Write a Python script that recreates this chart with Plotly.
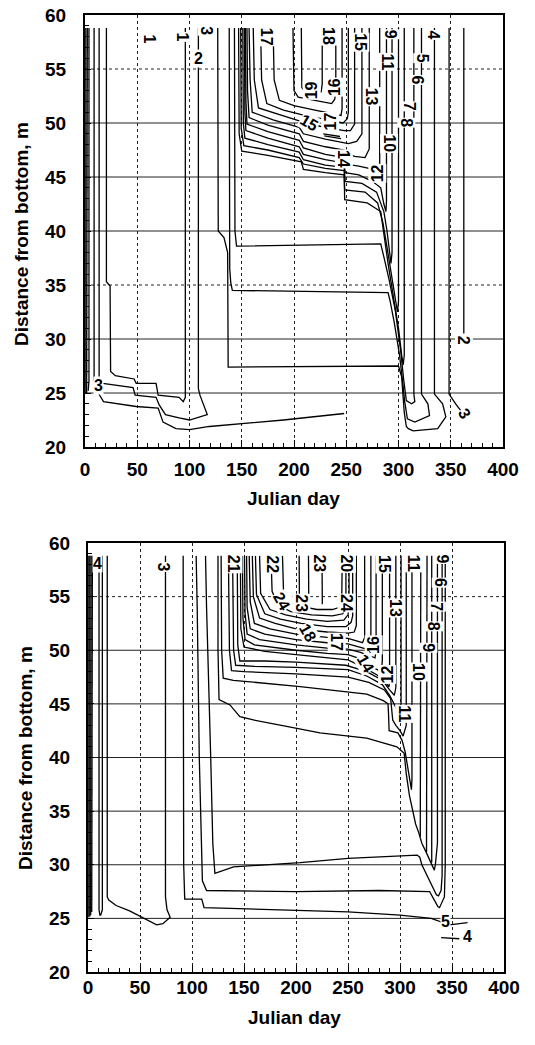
import plotly.graph_objects as go

# ---------------- TOP PANEL isotherms (Julian day, distance from bottom in m)
top_edge1_day = [0.8, 0.8];            top_edge1_m = [58.8, 25.0]
top_edge2_day = [2.2, 2.2, 1.6];       top_edge2_m = [58.8, 25.8, 25.0]
top_edge3_day = [3.8, 3.8, 3.0];       top_edge3_m = [58.8, 26.1, 25.2]
top_c3_day = [8.7, 8.7, 9.8, 12.5, 14.6, 17.7, 49, 70, 74.7, 87, 100, 119, 132, 190, 248]
top_c3_m = [58.8, 26.4, 25.5, 25.0, 24.7, 24.2, 23.75, 23.6, 22.3, 21.7, 21.6, 21.9, 22.0, 22.5, 23.1]
top_c2_day = [13.5, 13.5, 17, 30, 46, 48, 68, 71, 77, 90, 100, 117, 110, 108.5, 108.5]
top_c2_m = [58.8, 26.2, 25.9, 25.7, 25.5, 24.8, 24.6, 23.9, 23.0, 22.7, 22.5, 23.0, 24.8, 25.4, 58.8]
top_c1_day = [20.5, 20.5, 24, 24.5, 29, 47, 49, 68, 70, 90, 94, 96, 96]
top_c1_m = [58.8, 35.3, 34.9, 27.0, 26.6, 26.3, 25.9, 25.9, 24.8, 24.6, 24.2, 24.6, 58.8]
top_i5_day = [127, 127.5, 133, 136.5, 137, 300, 303, 304.5, 305.5, 307.5, 309.4, 314, 337.5, 345.3, 342.2, 334.4, 334.4]
top_i5_m = [58.8, 40.0, 39.4, 38.0, 27.4, 27.5, 26.5, 24.5, 23.2, 21.9, 21.7, 21.5, 21.7, 22.8, 24.0, 24.9, 58.8]
top_i6_day = [138, 138.5, 139.5, 141, 290, 292, 296, 301, 304, 305.8, 308.5, 315.6, 329.7, 328.1, 322, 322]
top_i6_m = [58.8, 36.5, 35.2, 34.5, 34.3, 33.5, 31.5, 28.5, 26.0, 24.3, 22.6, 22.3, 22.9, 24.0, 24.9, 58.8]
top_i7_day = [143, 143.5, 145, 283, 286, 291, 297, 302, 305, 306.8, 307.5, 312.5, 315.6, 314.7, 314.7]
top_i7_m = [58.8, 40.0, 38.6, 38.8, 37.6, 35.5, 32.6, 29.0, 26.2, 24.9, 24.3, 24.0, 24.2, 24.9, 58.8]
top_i8_day = [147, 147.5, 150, 175, 207, 209, 230, 248, 248.5, 270, 283, 286, 290, 295, 300, 303, 304.5, 305.5, 305.5]
top_i8_m = [58.8, 49.0, 47.4, 47.0, 46.4, 45.7, 45.4, 45.2, 42.9, 42.6, 41.8, 39.6, 37.0, 34.0, 31.0, 28.5, 27.6, 28.5, 58.8]
top_i9_day = [149, 149.5, 152, 175, 205, 209, 230, 248, 248.5, 268, 280, 285, 289, 293, 296.5, 299, 300, 300]
top_i9_m = [58.8, 49.5, 47.9, 47.5, 46.8, 46.2, 45.8, 45.6, 43.8, 43.6, 42.6, 40.8, 38.5, 36.0, 34.0, 32.5, 33.5, 58.8]
top_i10_day = [151, 151.5, 153, 175, 205, 209, 230, 248, 249, 265, 279, 286, 289, 291.5, 292.8, 293.8, 293.8]
top_i10_m = [58.8, 50, 48.6, 48.0, 47.3, 46.6, 46.1, 45.9, 44.6, 44.4, 43.6, 41.8, 40.0, 38.0, 37.0, 38.0, 58.8]
top_i11_day = [152.5, 153, 154, 175, 205, 209, 230, 248, 249, 262, 275, 283, 286, 288, 288.5, 288.5]
top_i11_m = [58.8, 51, 49.3, 48.6, 47.8, 47.1, 46.6, 46.3, 45.4, 45.2, 44.6, 44.0, 42.5, 41.8, 42.8, 58.8]
top_i12_day = [153.5, 154, 155, 175, 205, 209, 230, 248, 249, 262, 276, 281.5, 282, 282]
top_i12_m = [58.8, 52, 49.9, 49.2, 48.4, 47.7, 47.1, 46.8, 46.2, 46.0, 45.7, 45.2, 46.2, 58.8]
top_i13_day = [155, 155.5, 157, 175, 205, 209, 230, 248, 250, 258, 268, 272, 272]
top_i13_m = [58.8, 53, 50.5, 49.8, 49.0, 48.3, 47.8, 47.5, 47.2, 46.9, 46.8, 47.6, 58.8]
top_i14_day = [157, 158, 160, 180, 205, 209, 230, 248, 252, 260, 265, 265]
top_i14_m = [58.8, 54, 51.0, 50.3, 49.6, 49.0, 48.5, 48.2, 48.1, 48.3, 49.0, 58.8]
top_i15_day = [161, 162, 166, 185, 205, 225, 248, 254, 258, 258]
top_i15_m = [58.8, 54, 51.4, 50.8, 50.2, 49.7, 49.3, 49.3, 49.9, 58.8]
top_i16_day = [168, 169, 174, 190, 210, 230, 247, 251, 252, 252]
top_i16_m = [58.8, 54, 51.8, 51.2, 50.7, 50.3, 50.0, 50.4, 51.0, 58.8]
top_i17_day = [180, 181, 186, 200, 220, 240, 245, 246, 246]
top_i17_m = [58.8, 54, 52.1, 51.6, 51.2, 50.8, 50.7, 51.3, 58.8]
top_i18_day = [199, 200, 204, 220, 236, 239, 240, 240]
top_i18_m = [58.8, 53, 52.4, 52.1, 51.8, 52.2, 53, 58.8]
top_i19_day = [207, 207.5, 210, 220, 226, 227, 227]
top_i19_m = [58.8, 53.3, 52.9, 52.7, 52.9, 53.6, 58.8]
top_s1_day = [228, 244];  top_s1_m = [49.0, 48.75]
top_s2_day = [229, 245];  top_s2_m = [48.8, 48.55]
top_r3_day = [348.4, 348.4, 354.7, 360.9];  top_r3_m = [58.8, 24.9, 24.0, 23.2]
top_r2_day = [362.5, 362.5];  top_r2_m = [58.8, 30.5]

top_label_text = ["1", "1", "2", "3", "17", "19", "18", "16", "15", "9", "11", "13", "10", "12",
                  "4", "5", "6", "7", "8", "15", "17", "14", "3", "2", "3"]
top_label_day = [61.6, 93, 109, 116.7, 174, 217, 233, 239, 263, 292.5, 290, 275, 291, 280,
                 334, 323, 318, 310, 307, 214, 235, 247.6, 12.5, 363, 363]
top_label_m = [57.8, 58.0, 56.0, 58.5, 58.0, 53.0, 58.0, 53.3, 57.5, 58.2, 55.7, 52.4, 48.1, 45.3,
               58.2, 56.0, 54.0, 51.5, 50.0, 50.0, 50.1, 46.7, 25.7, 29.9, 23.1]
top_label_angle = [90, 90, 0, 90, 90, -90, 90, -90, 90, 90, 90, 90, 90, -90,
                   90, 90, 90, 90, 90, 30, -90, 90, 0, 90, 60]

# ---------------- BOTTOM PANEL isotherms
bot_edge1_day = [0.8, 0.8];            bot_edge1_m = [58.8, 25.1]
bot_edge2_day = [1.8, 1.8];            bot_edge2_m = [58.8, 25.2]
bot_edge3_day = [3.0, 3.0, 2.6];       bot_edge3_m = [58.8, 26.0, 25.3]
bot_edge4_day = [4.2, 4.2, 3.6];       bot_edge4_m = [58.8, 27.0, 25.6]
bot_c4_day = [10.6, 10.6, 11.4, 12.2, 13.8, 13.8]
bot_c4_m = [58.8, 25.8, 25.3, 25.3, 25.8, 58.8]
bot_c3_day = [18.5, 18.5, 20, 27, 40, 50, 66, 72, 79, 76, 74.5, 74.5]
bot_c3_m = [58.8, 27.0, 26.7, 26.2, 25.7, 25.2, 24.4, 24.5, 25.1, 25.8, 27.0, 58.8]
bot_c5_day = [91.5, 92, 93, 109.4, 111.6, 179, 250, 300, 330, 336, 341]
bot_c5_m = [58.8, 30, 26.8, 26.8, 26.0, 25.8, 25.6, 25.3, 25.0, 24.8, 24.6]
bot_c5d_day = [347.5, 364.9];  bot_c5d_m = [24.4, 24.6]
bot_c4b_day = [339.6, 357];    bot_c4b_m = [23.2, 23.1]
bot_c6_day = [104, 105, 107, 110, 114, 200, 280, 328.5, 333, 336.4, 338, 342.7, 343.5, 343.5]
bot_c6_m = [58.8, 54, 40, 28.5, 27.6, 27.5, 27.6, 27.5, 26.7, 26.1, 26.0, 27.0, 30, 58.8]
bot_c7_day = [113, 114, 118, 120, 122, 140, 204, 250, 316.5, 319, 321, 326, 330, 333, 335, 337, 339.5, 340.5, 340.5]
bot_c7_m = [58.8, 54, 40, 32, 29.2, 29.8, 30.2, 30.6, 30.9, 30.7, 30.0, 29.0, 28.3, 27.6, 27.2, 27.1, 27.6, 29, 58.8]
bot_c8_day = [125, 125, 126, 136.5, 146, 159, 191, 223, 268, 297, 304, 306, 309, 312, 315, 318, 321, 325, 328,
              330.5, 332, 333, 334, 336, 336]
bot_c8_m = [58.8, 50, 45.4, 44.9, 43.8, 43.5, 42.9, 42.3, 41.8, 41.0, 40.4, 38.5, 36.5, 35.0, 33.8, 33.0, 32.0,
            31.2, 30.5, 30.0, 29.6, 29.5, 30, 32, 58.8]
bot_c9_day = [128, 128.5, 130, 139.8, 204, 268, 284, 288.5, 289, 289.5, 298, 302, 305, 307.5, 309.5, 311, 311.5, 311.5]
bot_c9_m = [58.8, 50, 47.4, 47.2, 46.6, 45.9, 45.3, 45.0, 44.0, 42.5, 42.3, 41.6, 40.5, 39.0, 37.5, 37.0, 38, 58.8]
bot_c10_day = [135, 136, 138, 150, 200, 250, 270, 285, 291, 293, 296, 300, 303, 306, 306]
bot_c10_m = [58.8, 50, 48.1, 48.0, 47.8, 47.5, 47.0, 46.3, 45.5, 43.5, 43.0, 42.5, 42.0, 43, 58.8]
bot_c11_day = [139, 140, 142, 160, 200, 250, 268, 283, 290, 294, 298, 301, 301]
bot_c11_m = [58.8, 50, 48.6, 48.5, 48.4, 48.2, 47.6, 46.8, 45.8, 45.0, 44.3, 45, 58.8]
bot_c12_day = [143.5, 144, 146, 170, 200, 248, 268, 283, 290, 294.5, 296, 296]
bot_c12_m = [58.8, 50.5, 49.0, 49.0, 48.9, 48.6, 48.0, 47.2, 46.3, 45.8, 46.5, 58.8]
bot_c13_day = [146.5, 147, 150, 170, 200, 230, 250, 265, 278, 286, 289.5, 290, 290]
bot_c13_m = [58.8, 52, 50.3, 49.9, 49.6, 49.3, 49.1, 48.4, 47.7, 47.0, 46.6, 47.5, 58.8]
bot_f1_day = [148.5, 149, 151, 160, 200, 230, 250, 262, 270, 278, 282, 283, 283]
bot_f1_m = [58.8, 53, 51.0, 50.5, 50.0, 49.7, 49.6, 49.2, 48.6, 48.2, 48.0, 49, 58.8]
bot_f2_day = [150.5, 151, 153, 165, 200, 230, 250, 262, 270, 276, 277, 277]
bot_f2_m = [58.8, 53.5, 51.5, 51.0, 50.5, 50.2, 50.1, 49.8, 49.5, 49.3, 50, 58.8]
bot_f3_day = [152.5, 153, 156, 170, 200, 230, 250, 262, 268, 271, 272, 272]
bot_f3_m = [58.8, 54, 52.0, 51.5, 51.0, 50.7, 50.6, 50.3, 50.1, 50.0, 50.6, 58.8]
bot_f4_day = [155, 156, 160, 175, 200, 230, 250, 258, 264, 266, 266]
bot_f4_m = [58.8, 54.5, 52.5, 52.0, 51.5, 51.2, 51.1, 50.9, 50.7, 51.2, 58.8]
bot_f5_day = [158, 159, 165, 180, 200, 230, 250, 256, 258, 258]
bot_f5_m = [58.8, 55, 53.0, 52.5, 52.0, 51.7, 51.6, 51.7, 52.3, 58.8]
bot_f6_day = [161, 162, 170, 185, 205, 230, 248, 253, 254.5, 254.5]
bot_f6_m = [58.8, 55.2, 53.4, 52.9, 52.5, 52.2, 52.2, 52.6, 53.2, 58.8]
bot_f7_day = [165, 166, 175, 190, 210, 230, 246, 250, 251, 251]
bot_f7_m = [58.8, 55.3, 53.8, 53.3, 52.9, 52.7, 52.8, 53.3, 54, 58.8]
bot_f8_day = [176, 177, 183, 195, 215, 235, 245, 247.5, 248, 248]
bot_f8_m = [58.8, 55.5, 54.2, 53.6, 53.3, 53.2, 53.4, 54, 55, 58.8]
bot_f9_day = [187, 188, 192, 205, 220, 235, 242, 244, 244.5]
bot_f9_m = [58.8, 55.5, 54.6, 54.1, 53.8, 53.8, 54.0, 54.8, 58.8]
bot_s1_day = [225, 225.3];   bot_s1_m = [58.8, 54.3]
bot_s2_day = [203, 203.3];   bot_s2_m = [58.8, 54.6]
bot_s3_day = [212, 212.3];   bot_s3_m = [58.8, 54.4]
bot_v1_day = [320, 320, 319.5];  bot_v1_m = [58.8, 33.2, 32.6]
bot_v2_day = [326, 326, 325.5];  bot_v2_m = [58.8, 31.6, 31.2]
bot_v3_day = [330.5, 330.5];     bot_v3_m = [58.8, 30.2]

bot_label_text = ["4", "3", "21", "22", "23", "20", "15", "11", "9", "6", "7", "8", "9", "10", "13",
                  "24", "23", "24", "18", "17", "16", "14", "12", "11", "5", "4"]
bot_label_day = [9.6, 72.3, 140, 177, 223, 249, 285, 313, 341, 339, 335.7, 332.5, 327.7, 318, 295.6,
                 249, 205.6, 186, 212, 239, 275, 267, 288, 304, 343.8, 364.7]
bot_label_m = [58.1, 57.8, 58.1, 58.0, 58.1, 58.1, 58.0, 58.1, 58.5, 56.3, 54.1, 52.2, 50.2, 48.0, 53.9,
               54.4, 54.4, 54.5, 51.6, 50.8, 50.5, 48.8, 47.7, 44.1, 24.7, 23.3]
bot_label_angle = [0, 90, 90, 90, 90, 90, 90, 90, 90, 90, 90, 90, 90, 90, 90,
                   90, 90, 60, 60, 90, -90, 60, -90, 90, 0, 0]

# gridline levels
top_grid_solid = [25, 30, 40, 45, 50]
top_grid_dot = [35, 55]
bot_grid_solid = [25, 30, 35, 40, 45, 50]
bot_grid_dot = [55]

top_lines = [
    (top_edge1_day, top_edge1_m), (top_edge2_day, top_edge2_m), (top_edge3_day, top_edge3_m),
    (top_c3_day, top_c3_m), (top_c2_day, top_c2_m), (top_c1_day, top_c1_m),
    (top_i5_day, top_i5_m), (top_i6_day, top_i6_m), (top_i7_day, top_i7_m), (top_i8_day, top_i8_m),
    (top_i9_day, top_i9_m), (top_i10_day, top_i10_m), (top_i11_day, top_i11_m), (top_i12_day, top_i12_m),
    (top_i13_day, top_i13_m), (top_i14_day, top_i14_m), (top_i15_day, top_i15_m), (top_i16_day, top_i16_m),
    (top_i17_day, top_i17_m), (top_i18_day, top_i18_m), (top_i19_day, top_i19_m),
    (top_s1_day, top_s1_m), (top_s2_day, top_s2_m), (top_r3_day, top_r3_m), (top_r2_day, top_r2_m),
]
bot_lines = [
    (bot_edge1_day, bot_edge1_m), (bot_edge2_day, bot_edge2_m), (bot_edge3_day, bot_edge3_m),
    (bot_edge4_day, bot_edge4_m), (bot_c4_day, bot_c4_m), (bot_c3_day, bot_c3_m),
    (bot_c5_day, bot_c5_m), (bot_c5d_day, bot_c5d_m), (bot_c4b_day, bot_c4b_m),
    (bot_c6_day, bot_c6_m), (bot_c7_day, bot_c7_m), (bot_c8_day, bot_c8_m), (bot_c9_day, bot_c9_m),
    (bot_c10_day, bot_c10_m), (bot_c11_day, bot_c11_m), (bot_c12_day, bot_c12_m), (bot_c13_day, bot_c13_m),
    (bot_f1_day, bot_f1_m), (bot_f2_day, bot_f2_m), (bot_f3_day, bot_f3_m), (bot_f4_day, bot_f4_m),
    (bot_f5_day, bot_f5_m), (bot_f6_day, bot_f6_m), (bot_f7_day, bot_f7_m), (bot_f8_day, bot_f8_m),
    (bot_f9_day, bot_f9_m), (bot_s1_day, bot_s1_m), (bot_s2_day, bot_s2_m), (bot_s3_day, bot_s3_m),
    (bot_v1_day, bot_v1_m), (bot_v2_day, bot_v2_m), (bot_v3_day, bot_v3_m),
]

FONT = "Liberation Sans, Arial, Helvetica, sans-serif"
W, H = 535, 1045

fig = go.Figure()
for xs, ys in top_lines:
    fig.add_trace(go.Scatter(x=xs, y=ys, mode="lines", line=dict(color="black", width=1.3),
                             xaxis="x", yaxis="y", hoverinfo="skip", showlegend=False))
for xs, ys in bot_lines:
    fig.add_trace(go.Scatter(x=xs, y=ys, mode="lines", line=dict(color="black", width=1.3),
                             xaxis="x2", yaxis="y2", hoverinfo="skip", showlegend=False))

annotations = []
for t, d, m, a in zip(top_label_text, top_label_day, top_label_m, top_label_angle):
    annotations.append(dict(x=d, y=m, xref="x", yref="y", text=t, showarrow=False, textangle=a,
                            bgcolor="white", borderpad=0, xanchor="center", yanchor="middle",
                            font=dict(family=FONT, size=16, color="black", weight="bold")))
for t, d, m, a in zip(bot_label_text, bot_label_day, bot_label_m, bot_label_angle):
    annotations.append(dict(x=d, y=m, xref="x2", yref="y2", text=t, showarrow=False, textangle=a,
                            bgcolor="white", borderpad=0, xanchor="center", yanchor="middle",
                            font=dict(family=FONT, size=16, color="black", weight="bold")))

title_font = dict(family=FONT, size=19, color="black", weight="bold")
annotations += [
    dict(x=22 / W, y=1 - 234 / H, xref="paper", yref="paper", text="Distance from bottom, m",
         textangle=-90, showarrow=False, font=title_font, xanchor="center", yanchor="middle"),
    dict(x=25 / W, y=1 - 758 / H, xref="paper", yref="paper", text="Distance from bottom, m",
         textangle=-90, showarrow=False, font=title_font, xanchor="center", yanchor="middle"),
    dict(x=293 / W, y=1 - 498 / H, xref="paper", yref="paper", text="Julian day",
         showarrow=False, font=title_font, xanchor="center", yanchor="middle"),
    dict(x=294 / W, y=1 - 1017 / H, xref="paper", yref="paper", text="Julian day",
         showarrow=False, font=title_font, xanchor="center", yanchor="middle"),
]

shapes = []
for lev in top_grid_solid:
    shapes.append(dict(type="line", xref="x", yref="y", x0=0, x1=400, y0=lev, y1=lev,
                       line=dict(color="#222", width=1), layer="below"))
for lev in top_grid_dot:
    shapes.append(dict(type="line", xref="x", yref="y", x0=0, x1=400, y0=lev, y1=lev,
                       line=dict(color="#222", width=1, dash="dot"), layer="below"))
for lev in bot_grid_solid:
    shapes.append(dict(type="line", xref="x2", yref="y2", x0=0, x1=400, y0=lev, y1=lev,
                       line=dict(color="#222", width=1), layer="below"))
for lev in bot_grid_dot:
    shapes.append(dict(type="line", xref="x2", yref="y2", x0=0, x1=400, y0=lev, y1=lev,
                       line=dict(color="#222", width=1, dash="dot"), layer="below"))

tick_font = dict(family=FONT, size=19, color="black", weight="bold")

def xaxis(domain, anchor, standoff):
    return dict(domain=domain, anchor=anchor, range=[0, 400], tickmode="linear", tick0=0, dtick=50,
                showgrid=True, gridcolor="#222", griddash="dot", gridwidth=1,
                showline=True, linecolor="black", linewidth=2, mirror=True,
                ticks="inside", ticklen=7, tickwidth=1, tickcolor="black",
                minor=dict(dtick=10, ticks="inside", ticklen=4, tickcolor="black", showgrid=False),
                tickfont=tick_font, ticklabelstandoff=standoff, zeroline=False, fixedrange=True,
                automargin=False)

def yaxis(domain, anchor, standoff):
    return dict(domain=domain, anchor=anchor, range=[20, 60], tickmode="linear", tick0=20, dtick=5,
                showgrid=False, showline=True, linecolor="black", linewidth=2, mirror=True,
                ticks="inside", ticklen=6, tickwidth=1, tickcolor="black",
                minor=dict(dtick=1, ticks="inside", ticklen=4, tickcolor="black", showgrid=False),
                tickfont=tick_font, ticklabelstandoff=standoff, zeroline=False, fixedrange=True,
                automargin=False)

fig.update_layout(
    width=W, height=H, autosize=False,
    margin=dict(l=0, r=0, t=0, b=0, pad=0),
    paper_bgcolor="white", plot_bgcolor="white",
    xaxis=xaxis([85 / W, 503 / W], "y", 4),
    yaxis=yaxis([1 - 447 / H, 1 - 15 / H], "x", 13),
    xaxis2=xaxis([88 / W, 504 / W], "y2", -3),
    yaxis2=yaxis([1 - 972 / H, 1 - 543 / H], "x2", 12),
    annotations=annotations,
    shapes=shapes,
    showlegend=False,
)

fig.write_html("out.html")
